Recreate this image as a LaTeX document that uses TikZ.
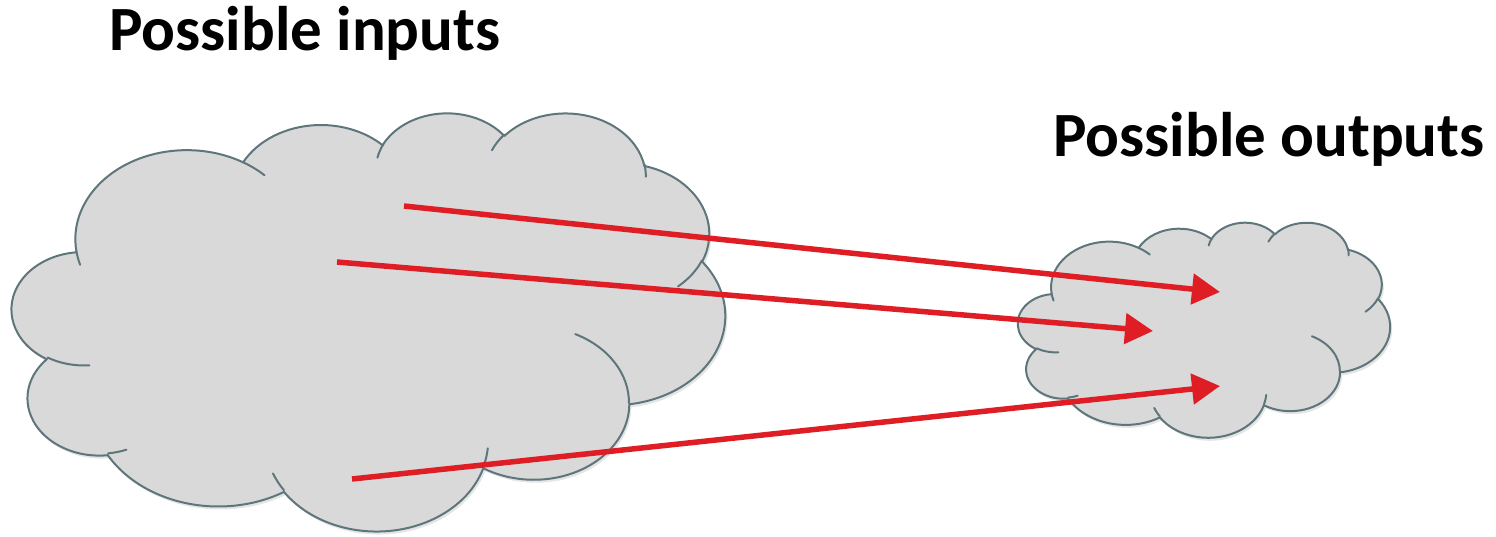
\documentclass[tikz,border=0pt]{standalone}
\usepackage{fontspec}
\setmainfont{Carlito}
\usetikzlibrary{arrows.meta}
\definecolor{cloudfill}{RGB}{217,217,217}
\definecolor{cloudline}{RGB}{94,118,123}
\definecolor{arrowred}{RGB}{222,30,36}

% Office-style cloud arc: wR hR startAngle sweep (visual angles, degrees)
\newcommand\cloudarc[4]{%
 \pgfmathsetmacro\cldA{#3}%
 \pgfmathsetmacro\cldB{#3+#4}%
 \pgfmathsetmacro\cldTs{atan2(#1*sin(\cldA),#2*cos(\cldA))}%
 \pgfmathsetmacro\cldTe{atan2(#1*sin(\cldB),#2*cos(\cldB))}%
 \pgfmathsetmacro\cldD{mod(\cldTe-\cldTs+720,360)}%
 \xdef\cldpath{\cldpath arc[x radius=#1, y radius=#2, start angle=\cldTs, delta angle=\cldD]}%
}
\newcommand\cloudhint[6]{%
 \xdef\cldpath{\cldpath (#1,#2)}%
 \cloudarc{#3}{#4}{#5}{#6}%
}
% outline
\gdef\cldpath{(3.900,14.370)}
\cloudarc{6.753}{9.190}{-190.4875}{123.7805}
\cloudarc{5.333}{7.267}{-144.1024}{89.9452}
\cloudarc{4.365}{5.945}{-145.8079}{99.7230}
\cloudarc{4.857}{6.595}{-130.9861}{117.2417}
\cloudarc{5.333}{7.273}{-78.7089}{109.0269}
\cloudarc{6.775}{9.220}{-46.2673}{130.2690}
\cloudarc{5.785}{7.867}{0.6250}{114.0333}
\cloudarc{6.752}{9.215}{22.4516}{115.1726}
\cloudarc{7.720}{10.543}{66.2426}{75.7110}
\cloudarc{4.360}{5.918}{-274.9421}{146.7356}
\cloudarc{4.345}{5.945}{-246.8285}{152.5189}
\xdef\cloudmain{\cldpath -- cycle}
% inner hint arcs
\gdef\cldpath{}
\cloudhint{4.693}{26.177}{4.345}{5.945}{86.7420}{26.4295}
\cloudhint{6.928}{34.899}{4.360}{5.918}{73.6105}{11.4475}
\cloudhint{16.478}{39.090}{6.752}{9.215}{137.6242}{14.0811}
\cloudhint{28.827}{34.751}{6.752}{9.215}{6.4533}{15.9984}
\cloudhint{34.129}{22.954}{5.785}{7.867}{-70.2924}{70.9174}
\cloudhint{41.798}{15.354}{5.333}{7.273}{30.3180}{27.7515}
\cloudhint{38.324}{5.426}{4.857}{6.595}{-13.7443}{14.8538}
\cloudhint{29.078}{3.952}{4.857}{6.595}{-149.1815}{18.1959}
\cloudhint{22.141}{4.720}{4.365}{5.945}{-163.4943}{17.6881}
\cloudhint{14.000}{5.192}{6.753}{9.190}{-66.7070}{12.3194}
\cloudhint{4.127}{15.789}{6.753}{9.190}{157.6544}{11.8582}
\xdef\cloudhints{\cldpath}

\tikzset{
  cloudshadow/.style={fill=black, fill opacity=0.10, draw=none},
  cloudbody/.style={fill=cloudfill, draw=cloudline, line width=2pt, line join=round},
  cloudcrease/.style={draw=cloudline, line width=2pt, line cap=round},
  redarrow/.style={draw=arrowred, line width=5.5pt, -{Triangle[length=28pt,width=30pt]}},
  lbl/.style={font=\fontsize{63}{70}\selectfont\bfseries, inner sep=0pt, anchor=base west},
}

\begin{document}
\begin{tikzpicture}[x=1pt,y=-1pt]
\useasboundingbox (0,0) rectangle (1496,536);
% input cloud
\begin{scope}[shift={(14,115)}, xscale=713/43.2, yscale=418/43.2]
  \path[cloudshadow] \cloudmain;
\end{scope}
\begin{scope}[shift={(12,112)}, xscale=713/43.2, yscale=418/43.2]
  \path[cloudbody] \cloudmain;
  \path[cloudcrease] \cloudhints;
\end{scope}
% output cloud
\begin{scope}[shift={(1020,225)}, xscale=372/43.2, yscale=215/43.2]
  \path[cloudshadow] \cloudmain;
\end{scope}
\begin{scope}[shift={(1018,222)}, xscale=372/43.2, yscale=215/43.2]
  \path[cloudbody] \cloudmain;
  \path[cloudcrease] \cloudhints;
\end{scope}
% labels
\node[lbl] (inp) at (109,50) {Possible inputs};
\node[lbl] (outp) at (1053,156) {Possible outputs};
% arrows
\coordinate (s1) at (404,206);
\coordinate (e1) at (1220,292);
\coordinate (s2) at (337,262);
\coordinate (e2) at (1153,331);
\coordinate (s3) at (352,479);
\coordinate (e3) at (1220,386);
\draw[redarrow] (s1) -- (e1);
\draw[redarrow] (s2) -- (e2);
\draw[redarrow] (s3) -- (e3);
\end{tikzpicture}
\end{document}
